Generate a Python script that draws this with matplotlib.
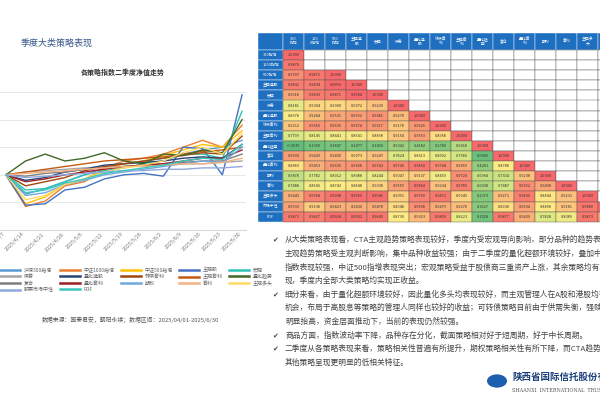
import numpy as np
import matplotlib.pyplot as plt
from matplotlib.colors import LinearSegmentedColormap
from matplotlib.patches import Rectangle, Circle

plt.rcParams['font.family'] = 'Noto Sans CJK SC'

# ---- 折线图数据 ----
dates = ['2025/4/7', '2025/4/14', '2025/4/21', '2025/4/28', '2025/5/6', '2025/5/12', '2025/5/19',
         '2025/5/26', '2025/6/2', '2025/6/9', '2025/6/16', '2025/6/23', '2025/6/30']
series_names = ['沪深300指增', '中证1000指增', '中证500指增', '主观股', '宏观', '债券', '量化选股',
                '转债套利', '主观套利', '量化趋势', '复合', '量化套利', '期权', '套利', '主观多头',
                '股票市场中性', 'FOF']
series_colors = ['#5B9BD5', '#ED7D31', '#FFC000', '#4472C4', '#2EC4B6', '#A5A5A5', '#264478',
                 '#9E480E', '#C55A11', '#43682B', '#7F7F7F', '#A01E22', '#6FA8DC', '#F4B183',
                 '#FFD966', '#8FAADC', '#3CC6C0']
nav = [
    [1.000, 0.986, 0.990, 0.995, 1.000, 1.005, 1.008, 1.010, 1.012, 1.015, 1.018, 1.020, 1.025],
    [1.000, 0.977, 0.981, 0.992, 0.995, 1.005, 1.010, 1.012, 1.015, 1.020, 1.025, 1.020, 1.036],
    [1.000, 0.979, 0.984, 0.993, 0.997, 1.004, 1.008, 1.010, 1.014, 1.018, 1.022, 1.020, 1.032],
    [1.000, 0.978, 0.979, 0.989, 0.991, 0.997, 1.000, 1.001, 0.999, 1.020, 1.019, 1.000, 1.058],
    [1.000, 0.989, 0.990, 0.995, 1.000, 1.003, 1.005, 1.008, 1.010, 1.015, 1.015, 1.012, 1.046],
    [1.000, 1.002, 1.003, 1.004, 1.005, 1.006, 1.006, 1.007, 1.007, 1.008, 1.008, 1.009, 1.010],
    [1.000, 0.996, 0.998, 1.002, 1.004, 1.007, 1.008, 1.009, 1.010, 1.012, 1.013, 1.012, 1.022],
    [1.000, 0.992, 0.995, 0.998, 1.003, 1.006, 1.008, 1.010, 1.012, 1.014, 1.016, 1.015, 1.028],
    [1.000, 1.002, 1.004, 1.006, 1.008, 1.010, 1.011, 1.012, 1.013, 1.015, 1.017, 1.018, 1.020],
    [1.000, 1.010, 1.015, 1.010, 1.012, 1.016, 1.010, 1.008, 1.015, 1.014, 1.018, 1.016, 1.040],
    [1.000, 0.999, 1.001, 1.002, 1.004, 1.005, 1.006, 1.007, 1.008, 1.009, 1.010, 1.010, 1.015],
    [1.000, 0.995, 0.997, 1.000, 1.002, 1.004, 1.006, 1.007, 1.008, 1.010, 1.012, 1.012, 1.018],
    [1.000, 0.985, 0.987, 0.993, 0.996, 1.000, 1.002, 1.004, 1.006, 1.008, 1.010, 1.009, 1.020],
    [1.000, 1.001, 1.002, 1.003, 1.004, 1.005, 1.006, 1.006, 1.007, 1.008, 1.008, 1.009, 1.012],
    [1.000, 0.982, 0.985, 0.993, 0.997, 1.002, 1.005, 1.007, 1.010, 1.016, 1.020, 1.015, 1.030],
    [1.000, 0.998, 0.999, 1.000, 1.001, 1.002, 1.003, 1.003, 1.004, 1.004, 1.005, 1.005, 1.006],
    [1.000, 0.987, 0.989, 0.994, 0.997, 1.001, 1.003, 1.005, 1.007, 1.010, 1.012, 1.011, 1.022],
]

# ---- 相关性矩阵 ----
corr_labels = ['300指增', '1000指增', '500指增', '主观选股', '宏观', '债券', '量化选股', '转债套利',
               '主观套利', '量化趋势', '复合', '量化套利', '期权', '套利', '主观多头', '市场中性', 'FOF']
corr_rows = [
    [1.0000],
    [0.9878],
    [0.9707, 0.9872, 1.0000],
    [0.9832, 0.9834, 0.9993, 1.0000],
    [0.9518, 0.9833, 0.9871, 0.9984, 1.0000],
    [0.8181, 0.9004, 0.9000, 0.9072, 0.9220, 1.0000],
    [0.8678, 0.9284, 0.9531, 0.9592, 0.9681, 0.9278, 1.0000],
    [0.9212, 0.9650, 0.9639, 0.9674, 0.9617, 0.9178, 0.9626, 1.0000],
    [0.7799, 0.8145, 0.8441, 0.8541, 0.8898, 0.9154, 0.9553, 0.8958, 1.0000],
    [-0.0035, 0.1300, 0.1847, 0.2077, 0.2450, 0.5342, 0.4182, 0.2780, 0.6418, 1.0000],
    [0.9590, 0.9420, 0.9400, 0.9073, 0.9247, 0.7824, 0.8613, 0.8092, 0.7580, 0.0589, 1.0000],
    [0.8883, 0.9453, 0.9639, 0.9668, 0.9742, 0.9749, 0.9850, 0.9744, 0.9459, 0.4281, 0.8788, 1.0000],
    [0.6878, 0.7782, 0.8012, 0.8088, 0.8244, 0.9047, 0.9137, 0.8459, 0.9720, 0.6984, 0.7334, 0.9238, 1.0000],
    [0.7488, 0.8546, 0.8742, 0.8848, 0.9038, 0.9559, 0.9864, 0.9234, 0.9789, 0.6038, 0.7487, 0.9692, 0.9498, 1.0000],
    [0.9443, 0.9784, 0.9908, 0.9959, 0.9946, 0.9091, 0.9799, 0.9872, 0.9049, 0.2973, 0.9271, 0.9839, 0.8844, 0.9231, 1.0000],
    [0.9533, 0.9138, 0.9423, 0.9430, 0.9478, 0.8948, 0.9698, 0.9479, 0.9278, 0.3627, 0.8938, 0.9534, 0.8808, 0.9181, 0.9880, 1.0000],
    [0.9873, 0.9827, 0.9928, 0.9902, 0.9845, 0.8730, 0.9323, 0.9850, 0.8221, 0.1328, 0.9877, 0.9430, 0.7828, 0.8389, 0.9873, 0.9500, 1.0000],
]

bullets = [
    ['从大类策略表现看，CTA主观趋势策略表现较好，季度内受宏观导向影响，部分品种的趋势表现较好，',
     '主观趋势策略受主观判断影响，集中品种收益较强；由于二季度的量化超额环境较好，叠加中证1000',
     '指数表现较强，中证500指增表现突出；宏观策略受益于股债商三重资产上涨，其余策略均有较好表',
     '现，季度内全部大类策略均实现正收益。'],
    ['细分来看，由于量化超额环境较好，因此量化多头均表现较好，而主观管理人在A股和港股均有较好',
     '机会，布局于高股息等策略的管理人同样也较好的收益；可转债策略目前由于供需失衡，强赎比例',
     '明显抬高，资金层面推动下，当前的表现仍然较强。'],
    ['商品方面，指数波动率下降，品种存在分化，截面策略相对好于短周期，好于中长周期。'],
    ['二季度从各策略表现来看，策略相关性普遍有所提升，期权策略相关性有所下降，而CTA趋势策略与',
     '其他策略呈现更明显的低相关特征。'],
]

fig = plt.figure(figsize=(6, 4), dpi=100)
fig.patch.set_facecolor('white')

fig.text(0.035, 0.885, '季度大类策略表现', fontsize=6.5, color='#3B5B8C')

# ---- 折线图 ----
ax = fig.add_axes([0.0, 0.425, 0.41, 0.345])
x = np.arange(len(dates))
lines = []
for name, col, vals in zip(series_names, series_colors, nav):
    ln, = ax.plot(x, vals, color=col, lw=1.0, label=name)
    lines.append(ln)
ax.set_ylim(0.96, 1.06)
ax.set_xlim(-0.3, len(dates) - 1 + 0.2)
ax.set_yticks([0.96, 0.98, 1.00, 1.02, 1.04, 1.06])
ax.set_yticklabels([])
ax.tick_params(axis='y', length=0)
ax.yaxis.grid(True, color='#E3E3E3', lw=0.6)
ax.set_xticks(x)
ax.set_xticklabels(dates, rotation=45, fontsize=3.8, color='#777777', ha='right')
ax.tick_params(axis='x', length=0, pad=1)
for s in ['top', 'right', 'left']:
    ax.spines[s].set_visible(False)
ax.spines['bottom'].set_color('#D9D9D9')
ax.set_title('各策略指数二季度净值走势', fontsize=5, fontweight='bold', color='#333333', pad=12)

# 图例按行排列：重新排序句柄以适配按列填充
ncol = 5
nrow = int(np.ceil(len(lines) / ncol))
order = []
for c in range(ncol):
    for r in range(nrow):
        k = r * ncol + c
        if k < len(lines):
            order.append(k)
leg = ax.legend([lines[k] for k in order], [series_names[k] for k in order],
                loc='upper left', bbox_to_anchor=(-0.02, -0.24), ncol=ncol, fontsize=3.6,
                frameon=False, handlelength=4, columnspacing=1.2, labelspacing=0.3,
                labelcolor='#666666')
for h in leg.legend_handles:
    h.set_linewidth(1.8)

fig.text(0.07, 0.195, '数据来源：国泰君安，朝阳永续；数据区间：2025/04/01-2025/6/30',
         fontsize=4.2, color='#555555')

# ---- 相关性矩阵 ----
cmap = LinearSegmentedColormap.from_list('corr', [
    (0.0, '#63BE7B'), (0.55, '#9FD17D'), (0.78, '#D9E883'), (0.88, '#FFEB84'),
    (0.95, '#FBAA77'), (1.0, '#F8696B')])
n = len(corr_labels)
cw = 21 / 600.0
rh = 10.1 / 400.0
hh = 17 / 400.0
x0 = 258 / 600.0
y_top = 1 - 33 / 400.0
lw0 = 25 / 600.0
blue = '#1F6FC0'

fig.patches.append(Rectangle((x0, y_top - hh), lw0, hh, transform=fig.transFigure,
                             facecolor=blue, edgecolor='white', lw=0.3))
for j, lab in enumerate(corr_labels):
    cx = x0 + lw0 + j * cw
    fig.patches.append(Rectangle((cx, y_top - hh), cw, hh, transform=fig.transFigure,
                                 facecolor=blue, edgecolor='white', lw=0.3))
    t = lab if len(lab) <= 3 else lab[:3] + '\n' + lab[3:]
    fig.text(cx + cw / 2, y_top - hh / 2, t, fontsize=2.8, color='white', ha='center', va='center',
             linespacing=1.0)
for i, lab in enumerate(corr_labels):
    cy = y_top - hh - (i + 1) * rh
    fig.patches.append(Rectangle((x0, cy), lw0, rh, transform=fig.transFigure,
                                 facecolor=blue, edgecolor='white', lw=0.3))
    fig.text(x0 + lw0 / 2, cy + rh / 2, lab, fontsize=2.8, color='white', ha='center', va='center')
    for j in range(n):
        cx = x0 + lw0 + j * cw
        if j < len(corr_rows[i]):
            v = corr_rows[i][j]
            fc = cmap(max(v, 0))
            fig.patches.append(Rectangle((cx, cy), cw, rh, transform=fig.transFigure,
                                         facecolor=fc, edgecolor='#555555', lw=0.3))
            fig.text(cx + cw / 2, cy + rh / 2, '%.4f' % v, fontsize=2.8, color='#333333',
                     ha='center', va='center')
        else:
            fig.patches.append(Rectangle((cx, cy), cw, rh, transform=fig.transFigure,
                                         facecolor='white', edgecolor='#555555', lw=0.3))

# ---- 文字说明 ----
yy = 1 - 240 / 400.0
for para in bullets:
    fig.text(272 / 600.0, yy, '✔', fontsize=5, color='#444444', va='center', family='DejaVu Sans')
    for line in para:
        fig.text(285 / 600.0, yy, line, fontsize=5.6, color='#444444', va='center')
        yy -= 13.6 / 400.0

# ---- 标志 ----
fig.patches.append(Circle((497 / 600.0, 1 - 381 / 400.0), 10 / 600.0, transform=fig.transFigure,
                          facecolor='#1D5FAE', edgecolor='none'))
fig.text(512 / 600.0, 1 - 377 / 400.0, '陕西省国际信托股份有限公司', fontsize=6.8, fontweight='bold',
         color='#1A3E7A', va='center')
fig.text(512 / 600.0, 1 - 391 / 400.0, 'SHAANXI  INTERNATIONAL  TRUST', fontsize=3.5,
         color='#555555', va='center', family='DejaVu Serif')

fig.savefig('out.png', dpi=100)
